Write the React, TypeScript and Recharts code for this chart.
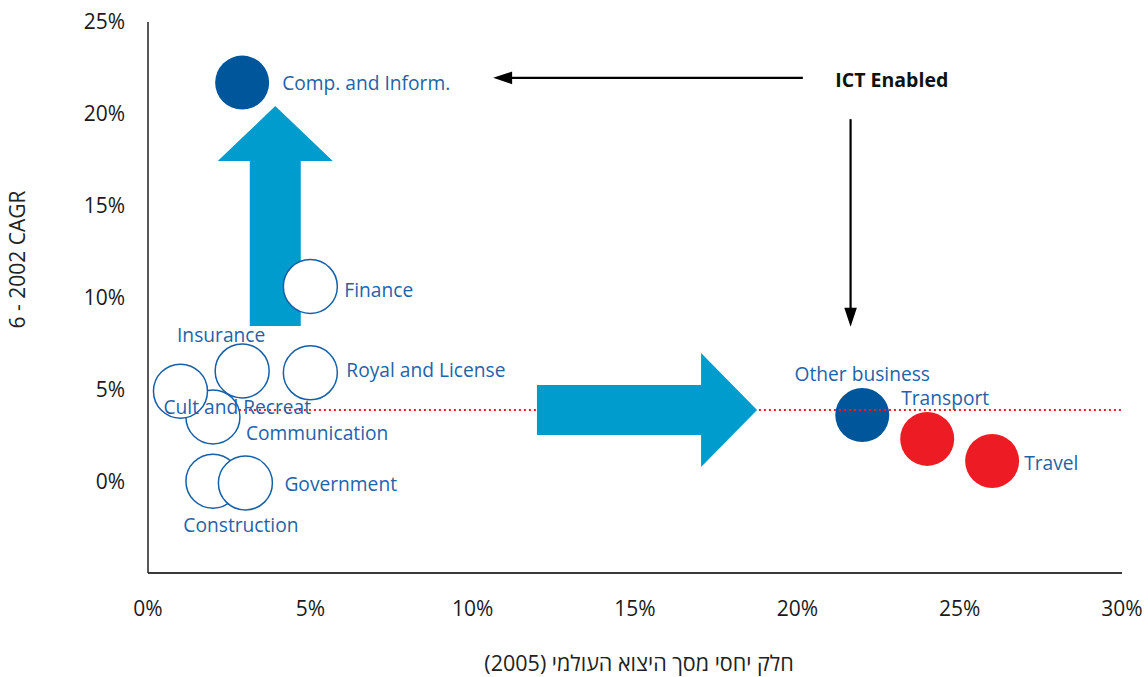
import React from 'react';
import { ScatterChart, Scatter, XAxis, YAxis, ReferenceLine, ReferenceDot } from 'recharts';

// ---------- data ----------
const sectors = [
  'Construction',
  'Government',
  'Communication',
  'Cult and Recreat',
  'Insurance',
  'Royal and License',
  'Finance',
  'Comp. and Inform.',
  'Other business',
  'Transport',
  'Travel',
];
const worldShare = [2.0, 3.0, 2.0, 1.0, 2.9, 5.0, 5.0, 2.9, 22.0, 24.0, 26.0];
const cagr = [0.0, -0.1, 3.5, 4.9, 6.0, 5.9, 10.6, 21.7, 3.6, 2.3, 1.1];
const sectorKind = ['open', 'open', 'open', 'open', 'open', 'open', 'open', 'ict', 'ict', 'traditional', 'traditional'];

const xTicks = [0, 5, 10, 15, 20, 25, 30];
const yTicks = [0, 5, 10, 15, 20, 25];
const averageGrowth = 3.87;
const averageLineStart = 2.8;

const xAxisTitle = 'חלק יחסי מסך היצוא העולמי (2005)';
const yAxisTitle = '6 - 2002 CAGR';
const calloutText = 'ICT Enabled';

// annotation anchors (data coordinates)
const upArrow = [{ x: 3.92, y: 8.45 }, { x: 3.92, y: 20.42 }];
const rightArrow = [{ x: 11.98, y: averageGrowth }, { x: 18.76, y: averageGrowth }];
const ictLeftArrow = [{ x: 20.17, y: 21.96 }, { x: 10.63, y: 21.96 }];
const ictDownArrow = [{ x: 21.64, y: 19.71 }, { x: 21.64, y: 8.41 }];
const calloutPos = { x: 22.91, y: 21.89 };

// ---------- styles ----------
const FONT = "'Open Sans', 'DejaVu Sans', sans-serif";
const DARK_BLUE = '#00569B';
const RED = '#ED1C24';
const LIGHT_BLUE = '#009CCD';
const TEXT_BLUE = '#1F63A9';
const OUTLINE_BLUE = '#1560A8';
const BUBBLE_R = 27;

const labelLayout: Record<string, { dx: number; dy: number; anchor: 'start' | 'middle' | 'end' }> = {
  'Construction': { dx: 28, dy: 43, anchor: 'middle' },
  'Government': { dx: 39, dy: 0, anchor: 'start' },
  'Communication': { dx: 33, dy: 16, anchor: 'start' },
  'Cult and Recreat': { dx: -17, dy: 15, anchor: 'start' },
  'Insurance': { dx: -21, dy: -36, anchor: 'middle' },
  'Royal and License': { dx: 36, dy: -3, anchor: 'start' },
  'Finance': { dx: 34, dy: 3, anchor: 'start' },
  'Comp. and Inform.': { dx: 40, dy: 0, anchor: 'start' },
  'Other business': { dx: 0, dy: -42, anchor: 'middle' },
  'Transport': { dx: -26, dy: -41, anchor: 'start' },
  'Travel': { dx: 32, dy: 2, anchor: 'start' },
};

const points = sectors.map((name, i) => ({ name, x: worldShare[i], y: cagr[i], kind: sectorKind[i] }));

const renderBubble = (p: any) => {
  const kind = p.payload?.kind;
  if (kind === 'ict') return <circle cx={p.cx} cy={p.cy} r={BUBBLE_R} fill={DARK_BLUE} />;
  if (kind === 'traditional') return <circle cx={p.cx} cy={p.cy} r={BUBBLE_R} fill={RED} />;
  return <circle cx={p.cx} cy={p.cy} r={BUBBLE_R} fill="#ffffff" stroke={OUTLINE_BLUE} strokeWidth={1.5} />;
};

const renderBubbleLabel = (p: any) => {
  const name = p.payload?.name as string;
  const l = labelLayout[name] || { dx: 35, dy: 0, anchor: 'start' };
  return (
    <text
      x={p.cx + l.dx}
      y={p.cy + l.dy}
      textAnchor={l.anchor}
      dominantBaseline="central"
      fontFamily={FONT}
      fontSize={19.2}
      fill={TEXT_BLUE}
    >
      {name}
    </text>
  );
};

const makeFatArrow = (shaftHalf: number, headHalf: number, headLen: number, color: string) => (p: any) => {
  const { x1, y1, x2, y2 } = p;
  const dx = x2 - x1;
  const dy = y2 - y1;
  const len = Math.hypot(dx, dy) || 1;
  const ux = dx / len, uy = dy / len;
  const nx = -uy, ny = ux;
  const bx = x2 - ux * headLen, by = y2 - uy * headLen;
  const pts = [
    [x1 + nx * shaftHalf, y1 + ny * shaftHalf],
    [bx + nx * shaftHalf, by + ny * shaftHalf],
    [bx + nx * headHalf, by + ny * headHalf],
    [x2, y2],
    [bx - nx * headHalf, by - ny * headHalf],
    [bx - nx * shaftHalf, by - ny * shaftHalf],
    [x1 - nx * shaftHalf, y1 - ny * shaftHalf],
  ];
  return <polygon points={pts.map((q) => q.join(',')).join(' ')} fill={color} stroke="none" />;
};

const makeThinArrow = (headHalf: number, headLen: number, color: string) => (p: any) => {
  const { x1, y1, x2, y2 } = p;
  const dx = x2 - x1;
  const dy = y2 - y1;
  const len = Math.hypot(dx, dy) || 1;
  const ux = dx / len, uy = dy / len;
  const nx = -uy, ny = ux;
  const bx = x2 - ux * headLen, by = y2 - uy * headLen;
  const tri = [
    [x2, y2],
    [bx + nx * headHalf, by + ny * headHalf],
    [bx - nx * headHalf, by - ny * headHalf],
  ];
  return (
    <g>
      <line x1={x1} y1={y1} x2={bx + ux * 2} y2={by + uy * 2} stroke={color} strokeWidth={2.2} />
      <polygon points={tri.map((q) => q.join(',')).join(' ')} fill={color} />
    </g>
  );
};

const renderCallout = (p: any) => (
  <text
    x={p.cx}
    y={p.cy}
    textAnchor="middle"
    dominantBaseline="central"
    fontFamily={FONT}
    fontWeight={700}
    fontSize={19.5}
    fill="#111"
  >
    {calloutText}
  </text>
);

const renderYTitle = (props: any) => {
  const vb = props.viewBox || { x: 0, y: 22, width: 148, height: 551 };
  const cx = vb.x + 17;
  const cy = vb.y + vb.height / 2 - 38;
  return (
    <text
      x={cx}
      y={cy}
      transform={`rotate(-90, ${cx}, ${cy})`}
      textAnchor="middle"
      dominantBaseline="central"
      fontFamily={FONT}
      fontSize={21}
      fill="#222"
    >
      {yAxisTitle}
    </text>
  );
};

const renderXTitle = (props: any) => {
  const vb = props.viewBox || { x: 148, y: 573, width: 974, height: 104 };
  return (
    <text
      x={vb.x + vb.width / 2 + 4}
      y={vb.y + 89}
      textAnchor="middle"
      dominantBaseline="central"
      fontFamily={FONT}
      fontSize={21.5}
      fill="#222"
    >
      {'\u202B' + xAxisTitle + '\u202C'}
    </text>
  );
};

const tickStyle = { fontFamily: FONT, fontSize: 21, fill: '#1a1a1a' };

export default function App() {
  return (
    <div style={{ position: 'absolute', left: 0, top: 0, width: 1148, height: 677, background: '#fff' }}>
      <ScatterChart width={1148} height={677} margin={{ top: 22, right: 26, bottom: 0, left: 0 }}>
        <XAxis
          type="number"
          dataKey="x"
          domain={[0, 30]}
          ticks={xTicks}
          interval={0}
          tickFormatter={(v: number) => `${v}%`}
          height={104}
          tickLine={false}
          tickSize={0}
          tickMargin={28}
          axisLine={{ stroke: '#3a3a3a', strokeWidth: 2 }}
          tick={tickStyle}
          label={renderXTitle}
          allowDataOverflow
        />
        <YAxis
          type="number"
          dataKey="y"
          domain={[-5, 25]}
          ticks={yTicks}
          interval={0}
          tickFormatter={(v: number) => `${v}%`}
          width={148}
          tickLine={false}
          tickSize={0}
          tickMargin={23}
          axisLine={{ stroke: '#222', strokeWidth: 1.5 }}
          tick={tickStyle}
          label={renderYTitle}
          allowDataOverflow
        />
        <ReferenceLine
          segment={upArrow}
          shape={makeFatArrow(25.5, 57.5, 55, LIGHT_BLUE)}
          zIndex={550}
        />
        <Scatter
          data={points}
          shape={renderBubble}
          isAnimationActive={false}
          zIndex={600}
        />
        <ReferenceLine
          segment={[{ x: averageLineStart, y: averageGrowth }, { x: 30, y: averageGrowth }]}
          stroke={RED}
          strokeWidth={2}
          strokeDasharray="2 3"
          zIndex={650}
        />
        <ReferenceLine
          segment={rightArrow}
          shape={makeFatArrow(25, 57, 56, LIGHT_BLUE)}
          zIndex={660}
        />
        <ReferenceLine segment={ictLeftArrow} shape={makeThinArrow(6.3, 19, '#000')} zIndex={670} />
        <ReferenceLine segment={ictDownArrow} shape={makeThinArrow(6.3, 19, '#000')} zIndex={670} />
        <ReferenceDot x={calloutPos.x} y={calloutPos.y} r={0} shape={renderCallout} zIndex={680} />
        <Scatter
          data={points}
          shape={renderBubbleLabel}
          isAnimationActive={false}
          zIndex={700}
        />
      </ScatterChart>
    </div>
  );
}
